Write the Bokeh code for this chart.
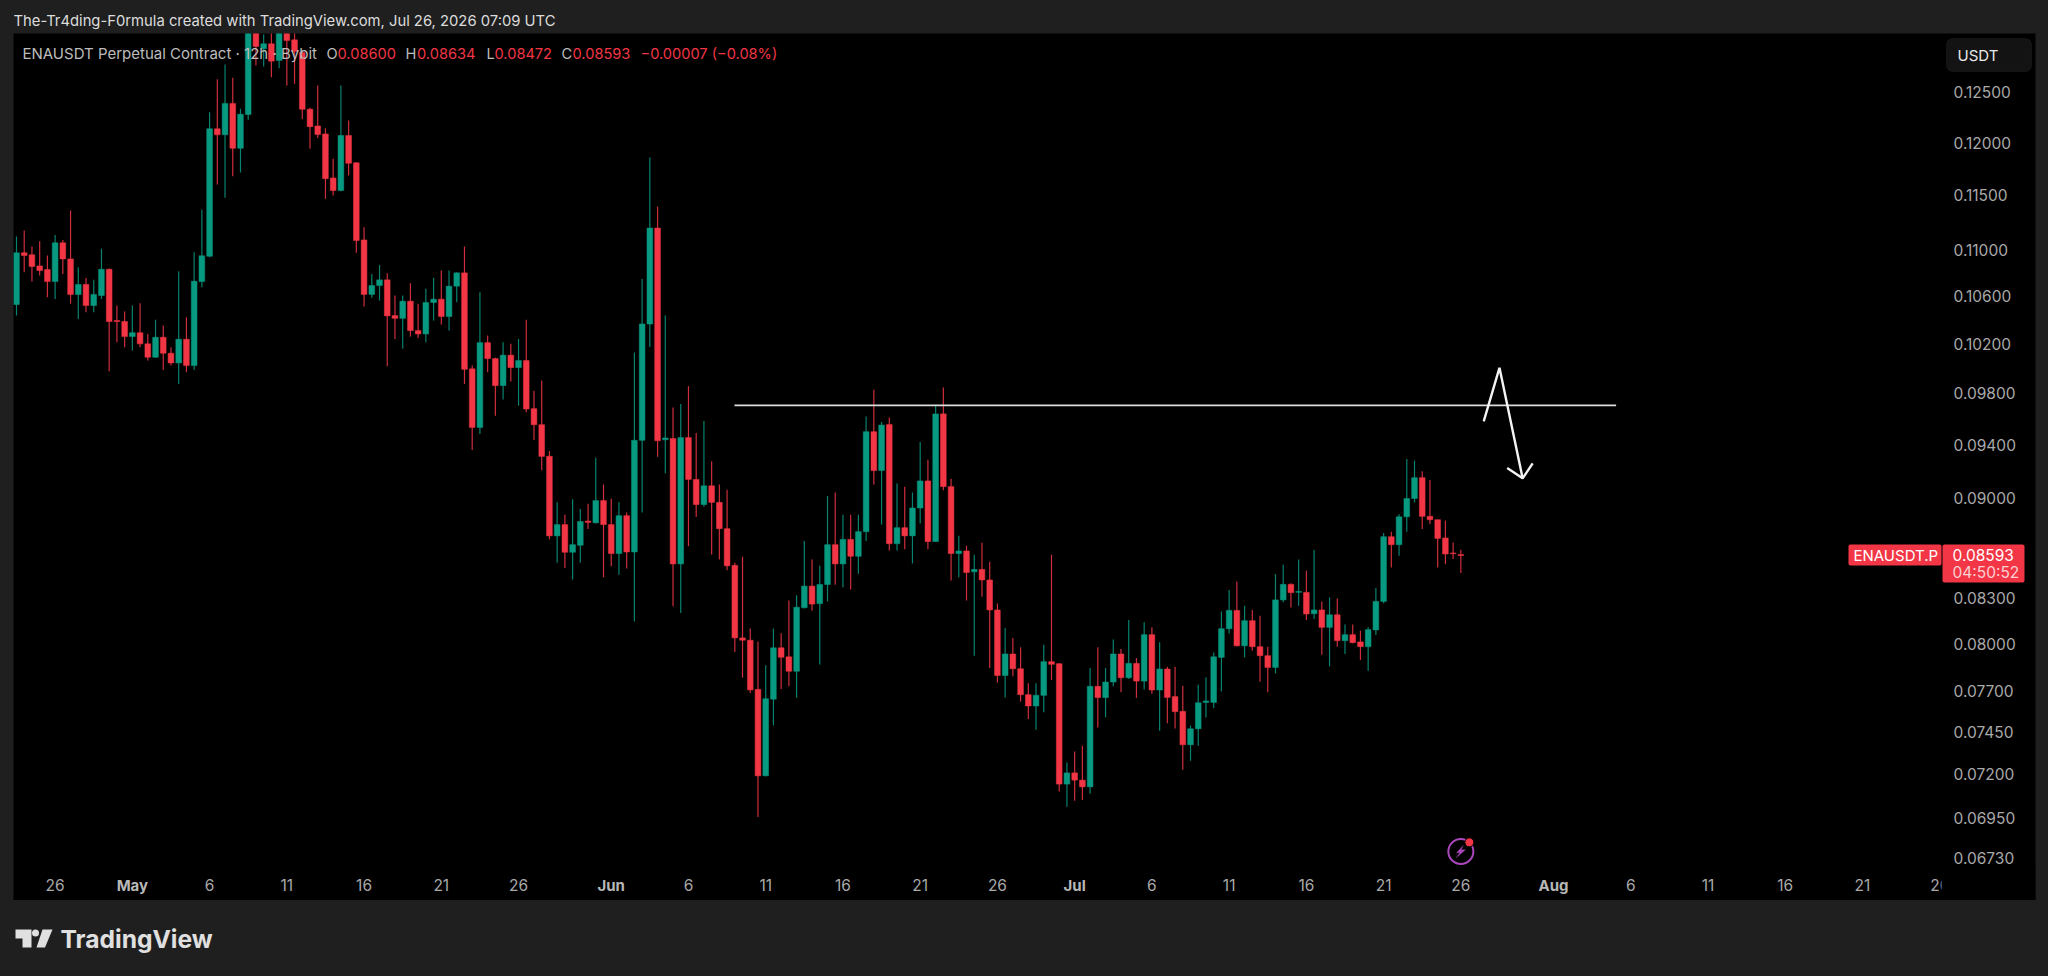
import numpy as np
from bokeh.plotting import figure
from bokeh.layouts import column
from bokeh.core.properties import value
from bokeh.models import (ColumnDataSource, Range1d, FixedTicker, PrintfTickFormatter, Label,
                          BoxAnnotation, PolyAnnotation)
from bokeh.embed import file_html
from bokeh.resources import INLINE

# OHLC prices, in units of 0.00001 USDT, 12h candles starting Apr 23 12:00
opens = [10529,10979,10961,10863,10831,10726,11068,10925,10615,10701,
         10520,10606,10833,10393,10385,10259,10292,10199,10089,10253,
         10122,10043,10237,10021,10726,10948,12138,12079,12390,11948,
         12279,13200,12950,13002,12828,13300,13044,12911,12332,12166,
         12087,11664,11546,12072,11808,11094,10615,10692,10741,10435,
         10412,10557,10309,10281,10546,10574,10427,10686,10802,9995,
         9532,10209,10078,9860,10106,10005,10062,9678,9553,9312,
         8731,8811,8616,8665,8836,8824,8984,8811,8607,8875,
         8618,9433,10364,11201,9437,9447,8535,9454,9139,8955,
         9092,8971,8782,8525,8039,8024,7711,7190,7650,7975,
         7917,7825,8238,8383,8265,8394,8669,8535,8706,8588,
         8761,9499,9205,9554,8676,8789,8731,8930,9128,8691,
         9637,9086,8607,8625,8481,8497,8425,8223,7798,7935,
         7841,7678,7608,7674,7886,7873,7142,7207,7165,7126,
         7730,7660,7757,7935,7784,7875,7763,8060,7707,7839,
         7666,7575,7373,7469,7630,7630,7913,8099,8220,7988,
         8152,7982,7924,7849,8290,8395,8341,8341,8198,8223,
         8108,8191,8021,8060,8013,7982,8091,8280,8725,8669,
         8867,8999,9152,8870,8846,8716,8611,8600]
closes = [10979,10954,10857,10822,10726,11068,10925,10615,10701,10520,
          10615,10833,10385,10385,10259,10292,10199,10089,10253,10122,
          10043,10237,10021,10729,10952,12138,12079,12390,11948,12282,
          13300,12974,13002,12821,13400,13037,12922,12332,12159,12081,
          11658,11546,12072,11804,11088,10615,10692,10741,10432,10412,
          10557,10309,10281,10546,10574,10427,10686,10802,9991,9532,
          10209,10078,9860,10106,10005,10062,9675,9553,9311,8731,
          8811,8616,8669,8833,8827,8984,8811,8607,8875,8618,
          9433,10364,11201,9430,9451,8535,9454,9139,8955,9092,
          8971,8782,8522,8039,8024,7708,7190,7653,7975,7914,
          7825,8241,8383,8262,8394,8669,8535,8706,8588,8761,
          9499,9205,9550,8676,8789,8731,8930,9128,8691,9637,
          9086,8607,8625,8476,8497,8425,8223,7798,7935,7841,
          7678,7608,7674,7886,7869,7142,7207,7165,7126,7730,
          7660,7757,7935,7784,7875,7763,8060,7707,7839,7661,
          7573,7373,7469,7628,7639,7917,8099,8220,7988,8152,
          7982,7924,7849,8290,8395,8339,8347,8196,8223,8108,
          8191,8021,8060,8008,7982,8093,8280,8725,8669,8867,
          8999,9152,8870,8846,8713,8604,8606,8593]
highs = [11124,11178,11035,11082,10954,11139,11094,11361,10851,10758,
         10741,11014,10840,10520,10469,10520,10540,10281,10399,10351,
         10171,10816,10421,10984,11367,12302,12635,12787,12650,12336,
         13500,13300,13100,13300,13600,13500,13200,12932,12347,12571,
         12144,11846,12571,12220,11814,11208,10793,10872,10799,10606,
         10606,10712,10535,10664,10758,10822,10822,10807,11035,10021,
         10634,10268,10084,10212,10199,10240,10399,9820,9900,9352,
         8971,8881,8994,8923,8961,9301,9102,8998,8971,8897,
         10128,10749,11859,11398,10435,9686,9715,9856,9489,9581,
         9275,9102,9063,8544,8585,8100,8015,7863,8100,8070,
         8286,8322,8694,8565,8522,9017,9043,8881,8881,8881,
         9616,9827,9574,9609,9109,9086,9043,9420,9285,9708,
         9845,9145,8731,8662,8599,8683,8550,8267,8104,8038,
         7978,7749,7749,7995,8599,7875,7268,7333,7367,7845,
         7978,7845,8028,7967,8157,7909,8141,8108,8010,7854,
         7854,7734,7488,7740,7786,7945,8213,8357,8415,8251,
         8223,8185,7982,8465,8529,8402,8566,8488,8632,8280,
         8307,8300,8126,8126,8086,8108,8370,8752,8761,8886,
         9291,9279,9199,9135,8846,8839,8685,8634]
lows = [10435,10807,10726,10778,10591,10577,10793,10535,10407,10464,
        10464,10577,9975,10212,10171,10144,10171,10062,10084,9986,
        10021,9873,9967,9986,10678,10940,11603,11478,11680,11716,
        12227,12776,12766,12656,12748,12571,12588,12235,11943,12048,
        11470,11499,11540,11688,10979,10512,10586,10563,10015,10240,
        10158,10259,10248,10212,10393,10360,10309,10549,9873,9359,
        9482,9967,9623,9749,9892,9701,9649,9435,9208,8706,
        8544,8507,8428,8544,8779,8818,8443,8519,8461,8503,
        8147,8897,10174,9308,9185,8247,8203,8659,8865,8939,
        8600,8565,8491,7948,7784,7689,6955,7187,7489,7714,
        7731,7659,8232,8217,7868,8280,8392,8376,8361,8467,
        8694,9102,8811,8628,8628,8637,8538,8818,8637,8687,
        9059,8422,8443,8286,7924,8312,7845,7754,7661,7794,
        7635,7528,7463,7569,7769,7099,7012,7046,7050,7087,
        7477,7538,7730,7693,7776,7658,7711,7683,7457,7502,
        7471,7225,7278,7367,7538,7596,7699,8068,7984,7913,
        7956,7759,7693,7811,8274,8240,8251,8157,8163,7930,
        7856,7982,7935,8005,7896,7828,8058,8267,8511,8592,
        8761,8971,8780,8816,8511,8534,8569,8472]

# time axis: positions counted in candles from the first one
day_ticks = [5,25,35,45,55,65,87,97,107,117,127,147,157,167,177,187,209,219,229,239,249]
day_labels = ["26","6","11","16","21","26","6","11","16","21","26","6","11","16","21","26","6","11","16","21","26"]
month_ticks = [15,77,137,199]
month_labels = ["May","Jun","Jul","Aug"]
price_ticks = [0.125,0.12,0.115,0.11,0.106,0.102,0.098,0.094,0.09,0.083,0.08,0.077,0.0745,0.072,0.0695,0.0673]

# hand-drawn overlays, (candle position, price)
level_x = [92.96, 207.1]
level_y = [0.09704, 0.09704]
zig_x = [189.96, 192.0, 195.0]
zig_y = [0.09579, 0.10003, 0.09147]
head_x = [193.0, 195.0, 196.3]
head_y = [0.09224, 0.09147, 0.09259]

RED = "#f23645"
GREEN = "#089981"
OUTER = "#1f1f1f"
TICK = "#a9a9a9"
FONT = "Inter"

o = np.array(opens) / 1e5
c = np.array(closes) / 1e5
h = np.array(highs) / 1e5
l = np.array(lows) / 1e5
x = np.arange(len(o))
col = [GREEN if b >= a else RED for a, b in zip(o, c)]
src = ColumnDataSource(dict(x=x, o=o, c=c, h=h, l=l, top=np.maximum(o, c), bot=np.minimum(o, c), col=col))

# main pane: black panel between page px x 13..2035 and y 33..900
TOP = 33
p = figure(width=2048, height=867, output_backend="svg", toolbar_location=None,
           y_axis_type="log", y_axis_location="right",
           x_range=Range1d(-0.388, 261.4), y_range=Range1d(0.064999, 0.13111),
           background_fill_color="#000000", border_fill_color=OUTER,
           min_border_left=13, min_border_top=0, min_border_right=13, min_border_bottom=0)
p.outline_line_color = None
p.grid.visible = False

def box(X0, Y0, X1, Y1, fill, line=None, radius=0):
    p.add_layout(BoxAnnotation(left=X0, right=X1, top=Y0 - TOP, bottom=Y1 - TOP,
                      left_units="canvas", right_units="canvas", top_units="canvas", bottom_units="canvas",
                      fill_color=fill, fill_alpha=1, line_color=line, level="overlay", border_radius=radius,
                      editable=False))

def lab(text, X, Y, color, size=14.6, weight="normal", align="left", data_x=False):
    p.add_layout(Label(x=X, y=Y - TOP, x_units="data" if data_x else "canvas", y_units="canvas",
               text=text, text_color=color, text_font=FONT, text_font_size=f"{size}px",
               text_font_style=weight, text_align=align, text_baseline="middle", level="overlay"))

# axes: their labels sit inside the black panel
ya = p.yaxis[0]
ya.ticker = FixedTicker(ticks=price_ticks)
ya.formatter = PrintfTickFormatter(format="%.5f")
ya.axis_line_color = None
ya.major_tick_line_color = None
ya.minor_tick_line_color = None
ya.major_tick_out = 0
ya.major_tick_in = 0
ya.major_label_standoff = -82
ya.major_label_text_color = TICK
ya.major_label_text_font = FONT
ya.major_label_text_font_size = "15.5px"

xa = p.xaxis[0]
xa.ticker = FixedTicker(ticks=day_ticks)
xa.major_label_overrides = {t: s for t, s in zip(day_ticks, day_labels)}
xa.axis_line_color = None
xa.major_tick_line_color = None
xa.minor_tick_line_color = None
xa.major_tick_out = 0
xa.major_tick_in = 0
xa.major_label_standoff = -22
xa.major_label_text_color = TICK
xa.major_label_text_font = FONT
xa.major_label_text_font_size = "15.5px"

# candles
p.segment("x", "h", "x", "l", source=src, line_color="col", line_width=1.2, line_alpha=0.85)
p.vbar("x", 0.74, "bot", "top", source=src, fill_color="col", line_color="col", line_width=0.5)

# drawings
p.line(level_x, level_y, line_color="#dcdcdc", line_width=1.8)
p.line(zig_x, zig_y, line_color="#f4f4f4", line_width=2.4)
p.line(head_x, head_y, line_color="#f4f4f4", line_width=2.4)

# the time scale ends where the price scale starts
box(1941, 868, 2035, 900, "#000000")

for t, s in zip(month_ticks, month_labels):
    lab(s, t, 885, "#b8b8b8", 15, "bold", "center", data_x=True)

# legend
GREY = "#bdbdbd"
lab("ENAUSDT Perpetual Contract \u00b7 12h \u00b7 Bybit", 22, 53, GREY, 15)
for t, X, C in [("O", 326, GREY), ("0.08600", 337, RED), ("H", 405, GREY), ("0.08634", 416.5, RED),
                ("L", 486, GREY), ("0.08472", 494, RED), ("C", 561, GREY), ("0.08593", 572, RED),
                ("\u22120.00007 (\u22120.08%)", 640, RED)]:
    lab(t, X, 53, C)

# USDT button
box(1946, 38, 2031, 71, "#131313", line="#2e2e2e", radius=6)
lab("USDT", 1957, 54.5, "#e8e8e8", 15)

# last price labels
box(1848, 544, 1941, 565, RED, radius=2)
box(1942, 544, 2024, 582, RED, radius=2)
lab("ENAUSDT.P", 1853, 554.5, "#ffffff", 15)
lab("0.08593", 1952, 554.5, "#ffffff", 15.5)
lab("04:50:52", 1952, 571.5, "#fbd0d4", 15.5)

# lightning badge
p.scatter([187], [0.06763], size=25, marker="circle", fill_color=None, line_color="#ab47bc", line_width=2)
p.scatter([188.1], [0.06813], size=9, marker="circle", fill_color=RED, line_color="#000000", line_width=1)
p.add_layout(PolyAnnotation(xs=[1462.7, 1456, 1459.3, 1455.7, 1465, 1460.7],
                            ys=[v - TOP for v in [845, 852.3, 852.3, 857.3, 849.3, 849.3]],
                            xs_units="canvas", ys_units="canvas", fill_color="#ab47bc", fill_alpha=1,
                            line_color="#ab47bc", level="overlay", editable=False))

def strip(height, y0, y1):
    # a column lines its frames up with the main pane, so the frame runs over x 13..2035
    f = figure(width=2048, height=height, output_backend="svg", toolbar_location=None,
               x_range=Range1d(13, 2035), y_range=Range1d(y1, y0), x_axis_type=None, y_axis_type=None,
               background_fill_color=OUTER, border_fill_color=OUTER, min_border=0)
    f.outline_line_color = None
    f.grid.visible = False
    return f

# header strip
head = strip(33, 0, 33)
head.text([13], [20], text=["The-Tr4ding-F0rmula created with TradingView.com, Jul 26, 2026 07:09 UTC"],
          text_color="#dcdcdc", text_font=value(FONT), text_font_size="14.8px", text_baseline="middle")

# footer strip with the TradingView mark
foot = strip(76, 900, 976)
MARK = "#e0e0e0"
foot.patch([15, 31, 31, 22, 22, 15], [929, 929, 947, 947, 938, 938], fill_color=MARK, line_color=None)
foot.patch([42, 52, 44.5, 36], [929, 929, 947, 947], fill_color=MARK, line_color=None)
foot.scatter([35], [932.5], size=7, marker="circle", fill_color=MARK, line_color=None)
foot.text([60], [938], text=["TradingView"], text_color=MARK, text_font=value(FONT), text_font_size="24.6px",
          text_font_style="bold", text_baseline="middle")

page = column(head, p, foot, spacing=0, styles={"background-color": OUTER})
open("out.html", "w").write(file_html(page, INLINE))
